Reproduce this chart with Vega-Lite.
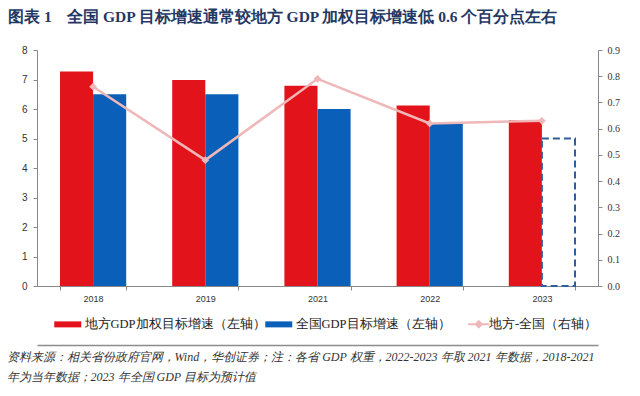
{
  "$schema": "https://vega.github.io/schema/vega-lite/v6.json",
  "width": 561,
  "height": 236,
  "autosize": {"type": "none"},
  "padding": {"left": 37, "top": 50, "right": 42, "bottom": 110},
  "background": "white",
  "config": {"view": {"stroke": null}},
  "title": {
    "text": "图表 1\u00a0\u00a0\u00a0\u00a0全国 GDP 目标增速通常较地方 GDP 加权目标增速低 0.6 个百分点左右",
    "anchor": "start",
    "frame": "group",
    "dx": -29,
    "offset": 20,
    "font": "Liberation Serif",
    "fontSize": 15.5,
    "fontWeight": "bold",
    "color": "#1F3864"
  },
  "datasets": {
    "bars": [
      {"year": "2018", "series": "地方GDP加权目标增速（左轴）", "value": 7.27, "est": false},
      {"year": "2018", "series": "全国GDP目标增速（左轴）", "value": 6.5, "est": false},
      {"year": "2019", "series": "地方GDP加权目标增速（左轴）", "value": 6.98, "est": false},
      {"year": "2019", "series": "全国GDP目标增速（左轴）", "value": 6.5, "est": false},
      {"year": "2021", "series": "地方GDP加权目标增速（左轴）", "value": 6.79, "est": false},
      {"year": "2021", "series": "全国GDP目标增速（左轴）", "value": 6.0, "est": false},
      {"year": "2022", "series": "地方GDP加权目标增速（左轴）", "value": 6.12, "est": false},
      {"year": "2022", "series": "全国GDP目标增速（左轴）", "value": 5.5, "est": false},
      {"year": "2023", "series": "地方GDP加权目标增速（左轴）", "value": 5.63, "est": false},
      {"year": "2023", "series": "全国GDP目标增速（左轴）", "value": 5.0, "est": true}
    ],
    "line": [
      {"year": "2018", "name": "地方-全国（右轴）", "diff": 0.76},
      {"year": "2019", "name": "地方-全国（右轴）", "diff": 0.48},
      {"year": "2021", "name": "地方-全国（右轴）", "diff": 0.79},
      {"year": "2022", "name": "地方-全国（右轴）", "diff": 0.62},
      {"year": "2023", "name": "地方-全国（右轴）", "diff": 0.63}
    ]
  },
  "layer": [
    {
      "data": {"name": "bars"},
      "mark": {"type": "bar", "stroke": "#2E5F98"},
      "encoding": {
        "x": {
          "field": "year", "type": "nominal", "sort": null,
          "scale": {"paddingInner": 0.41, "paddingOuter": 0.205},
          "axis": {
            "title": ["资料来源：相关省份政府官网，Wind，华创证券；注：各省 GDP 权重，2022-2023 年取 2021 年数据，2018-2021", "年为当年数据；2023 年全国 GDP 目标为预计值"],
            "titleAnchor": "start", "titleAlign": "left", "titleBaseline": "top",
            "titleX": -31, "titleY": 65,
            "titleFont": "Liberation Serif", "titleFontStyle": "italic", "titleFontWeight": "normal",
            "titleFontSize": 12, "titleColor": "#333333", "titleLineHeight": 20,
            "labelAngle": 0, "labelFont": "Liberation Sans", "labelFontSize": 9, "labelColor": "#333333",
            "labelPadding": 4,
            "tickBand": "extent", "tickSize": 4, "tickColor": "#888888",
            "domainColor": "#888888", "domainWidth": 1
          }
        },
        "xOffset": {"field": "series", "type": "nominal", "sort": null, "scale": {"paddingInner": 0, "paddingOuter": 0}},
        "y": {
          "field": "value", "type": "quantitative",
          "scale": {"domain": [0, 8]},
          "axis": {
            "title": null, "orient": "left", "tickCount": 8, "grid": false,
            "labelFont": "Liberation Sans", "labelFontSize": 10, "labelColor": "#333333",
            "tickSize": 4, "tickColor": "#888888", "domainColor": "#888888", "labelPadding": 6
          }
        },
        "fill": {
          "condition": {"test": "datum.est", "value": "#ffffff"},
          "field": "series", "type": "nominal", "sort": null,
          "scale": {"domain": ["地方GDP加权目标增速（左轴）", "全国GDP目标增速（左轴）"], "range": ["#E3131B", "#0A60B8"]},
          "legend": {
            "orient": "none", "direction": "horizontal", "legendX": 24.5, "legendY": 268,
            "title": null,
            "symbolType": "M-2.7,-0.6h5.4v1.2h-5.4z", "symbolSize": 100, "symbolStrokeWidth": 0,
            "labelFont": "Liberation Serif", "labelFontSize": 12.5, "labelColor": "#222222",
            "labelOffset": 10.5, "columnPadding": -2, "labelLimit": 400
          }
        },
        "strokeWidth": {"condition": {"test": "datum.est", "value": 2}, "value": 0},
        "strokeDash": {"condition": {"test": "datum.est", "value": [7, 4]}, "value": [1, 0]}
      }
    },
    {
      "data": {"name": "line"},
      "mark": {"type": "line", "strokeWidth": 2.5, "point": {"shape": "diamond", "filled": true, "size": 60}},
      "encoding": {
        "x": {"field": "year", "type": "nominal", "sort": null,
          "axis": {"orient": "bottom", "offset": 59, "title": null, "labels": false, "ticks": false, "domainColor": "#8c8c8c", "domainWidth": 1.5}},
        "y": {
          "field": "diff", "type": "quantitative",
          "scale": {"domain": [0, 0.9]},
          "axis": {
            "title": null, "orient": "right", "tickCount": 9, "format": ".1f", "grid": false,
            "labelFont": "Liberation Serif", "labelFontSize": 10, "labelColor": "#333333",
            "tickSize": 4, "tickColor": "#888888", "domainColor": "#888888", "labelPadding": 5
          }
        },
        "color": {
          "field": "name", "type": "nominal",
          "scale": {"domain": ["地方-全国（右轴）"], "range": ["#F0B7B9"]},
          "legend": {
            "orient": "none", "legendX": 435.5, "legendY": 268, "title": null,
            "symbolType": "M-2.1,0H2.1M0,-0.6L0.6,0L0,0.6L-0.6,0Z", "symbolSize": 100,
            "symbolStrokeWidth": 2, "symbolFillColor": "#F0B7B9",
            "labelFont": "Liberation Serif", "labelFontSize": 12.5, "labelColor": "#222222",
            "labelOffset": 4, "labelLimit": 400
          }
        }
      }
    }
  ],
  "resolve": {"scale": {"y": "independent"}, "axis": {"x": "independent"}}
}
